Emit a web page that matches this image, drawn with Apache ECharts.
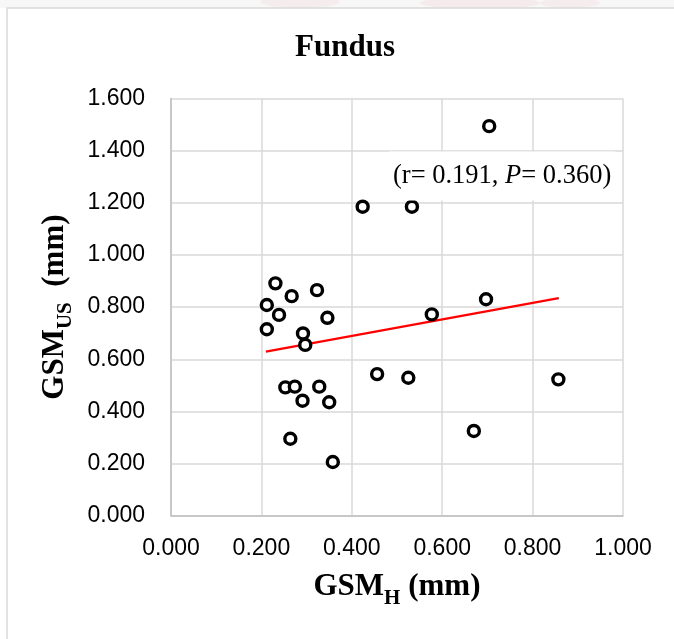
<!DOCTYPE html>
<html>
<head>
<meta charset="utf-8">
<script src="https://cdn.jsdelivr.net/npm/echarts@6/dist/echarts.min.js"></script>
<style>
  html, body { margin: 0; padding: 0; background: #ffffff; }
  #chart { width: 674px; height: 639px; }
</style>
</head>
<body>
<div id="chart"></div>
<script>
// GSM_H (x) values, mm
const gsmH = [0.231, 0.267, 0.323, 0.212, 0.239, 0.346, 0.212, 0.292, 0.297, 0.456,
              0.253, 0.274, 0.328, 0.291, 0.350, 0.264, 0.358, 0.704, 0.424, 0.533,
              0.577, 0.697, 0.525, 0.857, 0.670];
// GSM_US (y) values, mm
const gsmUS = [0.891, 0.842, 0.865, 0.808, 0.770, 0.759, 0.715, 0.699, 0.655, 0.543,
               0.492, 0.495, 0.495, 0.441, 0.435, 0.295, 0.206, 1.494, 1.185, 1.185,
               0.772, 0.830, 0.529, 0.523, 0.325];
// Linear trend line end points
const trendX = [0.210, 0.858];
const trendY = [0.629, 0.834];

const titleText = 'Fundus';
const statsR = '0.191';
const statsP = '0.360';

const chart = echarts.init(document.getElementById('chart'), null, { renderer: 'canvas' });

const serif = '"Liberation Serif", "Times New Roman", serif';
const sans = '"Liberation Sans", Arial, sans-serif';

const axisNameRich = {
  b: { fontFamily: serif, fontWeight: 'bold', fontSize: 31, color: '#000', padding: [0, 0, 6, 0], verticalAlign: 'bottom' },
  s: { fontFamily: serif, fontWeight: 'bold', fontSize: 21, color: '#000', verticalAlign: 'bottom' }
};

const option = {
  animation: false,
  backgroundColor: '#ffffff',
  graphic: [
    { type: 'rect', z: -10, shape: { x: 0, y: 0, width: 674, height: 8 }, style: { fill: '#f7f7f7' } },
    { type: 'ellipse', z: -9, shape: { cx: 300, cy: 2, rx: 40, ry: 6 }, style: { fill: 'rgba(235,150,160,0.1)' } },
    { type: 'ellipse', z: -9, shape: { cx: 480, cy: 3, rx: 60, ry: 6 }, style: { fill: 'rgba(235,150,160,0.12)' } },
    { type: 'ellipse', z: -9, shape: { cx: 570, cy: 3, rx: 30, ry: 5 }, style: { fill: 'rgba(235,150,160,0.1)' } },
    { type: 'rect', z: -8, shape: { x: 7, y: 8, width: 700, height: 700 }, style: { fill: '#ffffff', stroke: '#d9d9d9', lineWidth: 1.5 } },
    { type: 'text', x: 345, y: 48, style: { text: titleText, font: 'bold 31px ' + serif, fill: '#000', align: 'center', verticalAlign: 'middle' } },
    { type: 'text', x: 389, y: 176, z: 5, style: {
        text: '{n|(r= ' + statsR + ', }{i|P}{n|= ' + statsP + ')}',
        rich: {
          n: { fontFamily: serif, fontSize: 26.5, fill: '#000' },
          i: { fontFamily: serif, fontSize: 26.5, fontStyle: 'italic', fill: '#000' }
        },
        backgroundColor: '#ffffff',
        padding: [11, 4, 11, 4],
        align: 'left', verticalAlign: 'middle'
      } }
  ],
  grid: { left: 171, right: 51, top: 98.5, bottom: 123.3, containLabel: false },
  xAxis: {
    type: 'value', min: 0, max: 1, interval: 0.2,
    name: '{b|GSM}{s|H}{b| (mm)}',
    nameLocation: 'middle', nameGap: 56,
    nameTextStyle: { rich: axisNameRich },
    axisLine: { show: true, lineStyle: { color: '#bfbfbf', width: 1.5 } },
    axisTick: { show: false },
    splitLine: { show: true, lineStyle: { color: '#d9d9d9', width: 1.5 } },
    axisLabel: { formatter: v => v.toFixed(3), fontFamily: sans, fontSize: 23, color: '#000', margin: 21 }
  },
  yAxis: {
    type: 'value', min: 0, max: 1.6, interval: 0.2,
    name: '{b|GSM}{s|US}{b|  (mm)}',
    nameLocation: 'middle', nameGap: 90,
    nameTextStyle: { rich: axisNameRich },
    axisLine: { show: true, lineStyle: { color: '#bfbfbf', width: 1.5 } },
    axisTick: { show: false },
    splitLine: { show: true, lineStyle: { color: '#d9d9d9', width: 1.5 } },
    axisLabel: { formatter: v => v.toFixed(3), fontFamily: sans, fontSize: 23, color: '#000', margin: 26 }
  },
  series: [
    {
      type: 'line',
      data: trendX.map((x, i) => [x, trendY[i]]),
      showSymbol: false,
      symbol: 'none',
      lineStyle: { color: '#ff0000', width: 2.3 },
      z: 2
    },
    {
      type: 'scatter',
      data: gsmH.map((x, i) => [x, gsmUS[i]]),
      symbol: 'circle',
      symbolSize: 11,
      itemStyle: { color: '#ffffff', borderColor: '#000', borderWidth: 3.4, opacity: 1 },
      z: 3
    }
  ]
};

chart.setOption(option);
</script>
</body>
</html>
